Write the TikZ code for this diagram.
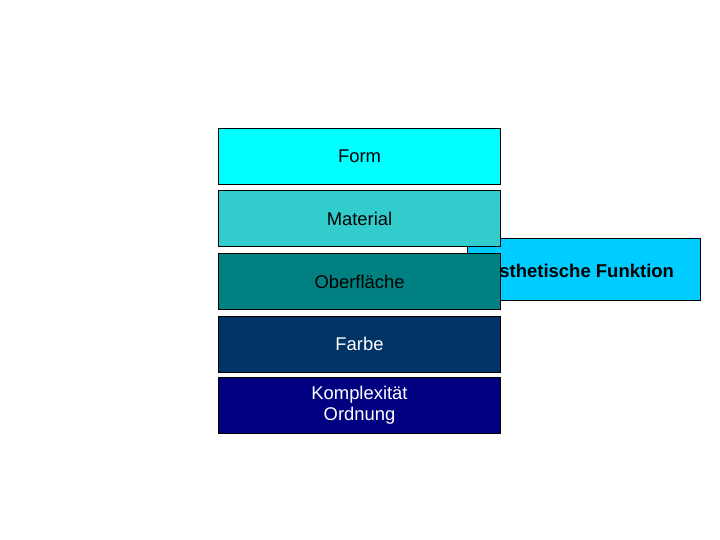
\documentclass[tikz,border=0pt]{standalone}
\usepackage{fontspec}
\setmainfont{Liberation Sans}
\definecolor{cForm}{HTML}{00FFFF}
\definecolor{cMat}{HTML}{33CCCC}
\definecolor{cOber}{HTML}{008080}
\definecolor{cFarbe}{HTML}{003366}
\definecolor{cKomp}{HTML}{000080}
\definecolor{cAest}{HTML}{00CCFF}
\begin{document}
\begin{tikzpicture}[x=1pt, y=1pt,
		lay/.style={rectangle, draw=black, line width=0.9pt, minimum width=282pt, minimum height=56pt, inner sep=0pt, align=center, font=\fontsize{18.4}{21}\selectfont},
		fn/.style={rectangle, draw=black, line width=0.9pt, fill=cAest, minimum width=233pt, minimum height=62pt, inner sep=0pt, font=\fontsize{18.5}{21}\selectfont\bfseries}
		]
		\useasboundingbox (0,0) rectangle (720,540);
		
		%Nodes
		\node[fn]	(aest)	at (584, 270.5)	{Ästhetische Funktion\kern8pt};
		\node[lay, fill=cForm]	(form)	at (359.5, 384)		{Form};
		\node[lay, fill=cMat]	(mat)	at (359.5, 321.5)	{Material};
		\node[lay, fill=cOber]	(ober)	at (359.5, 258.5)	{Oberfläche};
		\node[lay, fill=cFarbe, text=white]	(farbe)	at (359.5, 196)		{Farbe};
		\node[lay, fill=cKomp, text=white]	(komp)	at (359.5, 134.5)	{Komplexität\\Ordnung};
		
	\end{tikzpicture}
\end{document}
